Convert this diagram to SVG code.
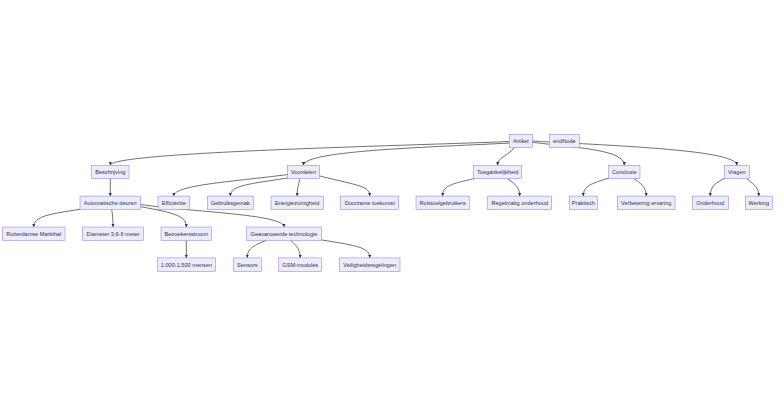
<svg xmlns="http://www.w3.org/2000/svg" width="784" height="406" viewBox="0 0 784 406">
<style>
.node rect{fill:#ECECFF;stroke:#9370DB;stroke-width:0.5}
.node text{font-family:"Liberation Sans",Arial,sans-serif;font-size:5.6px;fill:#333;text-anchor:middle;dominant-baseline:central}
.edge{fill:none;stroke:#333;stroke-width:0.7;marker-end:url(#arrow)}
</style>
<defs>
<marker id="arrow" viewBox="0 0 10 10" refX="10" refY="5" markerUnits="userSpaceOnUse" markerWidth="3.2" markerHeight="3.2" orient="auto">
<path d="M0,0 L10,5 L0,10 z" fill="#333"/>
</marker>
</defs>
<rect width="784" height="406" fill="#fff"/>
<g id="edges">
<path class="edge" d="M509.3,141.5 C400,146 110,152 110.3,165.3"/>
<path class="edge" d="M509.3,143 C440,147 303.5,150 303.5,165.3"/>
<path class="edge" d="M514,147.7 C508,156 497.7,157 497.7,165.3"/>
<path class="edge" d="M532.3,142.3 C580,148 624.3,150 624.3,165.3"/>
<path class="edge" d="M532.3,141 C620,146 736.8,150 736.8,165.3"/>
<path class="edge" d="M110.3,178.7 L110.3,196.1"/>
<path class="edge" d="M288,174.5 C230,182 173.8,185 173.8,196.1"/>
<path class="edge" d="M291,177.5 C250,184 230.3,185 230.3,196.1"/>
<path class="edge" d="M300,178.7 C298,186 297.2,188 297.2,196.1"/>
<path class="edge" d="M319.7,176 C360,186 369.7,186 369.7,196.1"/>
<path class="edge" d="M475,178.5 C450,184 442.7,186 442.7,196.1"/>
<path class="edge" d="M507.3,178.7 C516,184 519.7,188 519.7,196.1"/>
<path class="edge" d="M609.5,177.8 C590,184 583.3,186 583.3,196.1"/>
<path class="edge" d="M634,178.7 C642,184 646.2,188 646.2,196.1"/>
<path class="edge" d="M725,178 C714,184 710.3,187 710.3,196.1"/>
<path class="edge" d="M746.7,178.7 C755,185 758.8,188 758.8,196.1"/>
<path class="edge" d="M80,209.3 C50,214 33.7,216 33.7,227"/>
<path class="edge" d="M111.7,209.5 C112.5,215 113,218 113,227"/>
<path class="edge" d="M140.7,206.7 C175,213 186.3,216 186.3,227"/>
<path class="edge" d="M140.7,204.5 C190,212 284,214 284,227"/>
<path class="edge" d="M186.3,240.4 L186.3,257.9"/>
<path class="edge" d="M266.5,240.4 C252,246 247.3,249 247.3,257.9"/>
<path class="edge" d="M290.7,240.4 C297,246 300.2,250 300.2,257.9"/>
<path class="edge" d="M320.7,239.8 C360,246 369.7,248 369.7,257.9"/>
</g>
<g id="n-artikel" class="node"><rect x="509.3" y="134.3" width="23" height="13.4"/><text x="520.8" y="141">Artikel</text></g>
<g id="n-endnode" class="node"><rect x="549.3" y="134.3" width="30" height="13.4"/><text x="564.3" y="141">endNode</text></g>
<g id="n-beschrijving" class="node"><rect x="91.7" y="165.3" width="37.3" height="13.4"/><text x="110.3" y="172">Beschrijving</text></g>
<g id="n-voordelen" class="node"><rect x="287.3" y="165.3" width="32.4" height="13.4"/><text x="303.5" y="172">Voordelen</text></g>
<g id="n-toegankelijkheid" class="node"><rect x="473.7" y="165.3" width="48" height="13.4"/><text x="497.7" y="172">Toegankelijkheid</text></g>
<g id="n-conclusie" class="node"><rect x="608.7" y="165.3" width="31.3" height="13.4"/><text x="624.3" y="172">Conclusie</text></g>
<g id="n-vragen" class="node"><rect x="724.3" y="165.3" width="25" height="13.4"/><text x="736.8" y="172">Vragen</text></g>
<g id="n-automatische" class="node"><rect x="80" y="196.1" width="60.7" height="13.4"/><text x="110.3" y="202.8">Automatische deuren</text></g>
<g id="n-efficientie" class="node"><rect x="158" y="196.1" width="31.7" height="13.4"/><text x="173.8" y="202.8">Efficiëntie</text></g>
<g id="n-gebruiksgemak" class="node"><rect x="207.3" y="196.1" width="46" height="13.4"/><text x="230.3" y="202.8">Gebruiksgemak</text></g>
<g id="n-energiezuinigheid" class="node"><rect x="271" y="196.1" width="52.3" height="13.4"/><text x="297.2" y="202.8">Energiezuinigheid</text></g>
<g id="n-duurzame" class="node"><rect x="340.7" y="196.1" width="58" height="13.4"/><text x="369.7" y="202.8">Duurzame toekomst</text></g>
<g id="n-rolstoel" class="node"><rect x="416" y="196.1" width="53.3" height="13.4"/><text x="442.7" y="202.8">Rolstoelgebruikers</text></g>
<g id="n-regelmatig" class="node"><rect x="487.7" y="196.1" width="64" height="13.4"/><text x="519.7" y="202.8">Regelmatig onderhoud</text></g>
<g id="n-praktisch" class="node"><rect x="569.3" y="196.1" width="28" height="13.4"/><text x="583.3" y="202.8">Praktisch</text></g>
<g id="n-verbetering" class="node"><rect x="617.3" y="196.1" width="57.7" height="13.4"/><text x="646.2" y="202.8">Verbetering ervaring</text></g>
<g id="n-onderhoud" class="node"><rect x="692.3" y="196.1" width="36" height="13.4"/><text x="710.3" y="202.8">Onderhoud</text></g>
<g id="n-werking" class="node"><rect x="745.3" y="196.1" width="27" height="13.4"/><text x="758.8" y="202.8">Werking</text></g>
<g id="n-markthal" class="node"><rect x="2.3" y="227" width="62.7" height="13.4"/><text x="33.7" y="233.7">Rotterdamse Markthal</text></g>
<g id="n-diameter" class="node"><rect x="82.7" y="227" width="60.6" height="13.4"/><text x="113" y="233.7">Diameter 3,6-6 meter</text></g>
<g id="n-bezoekersstroom" class="node"><rect x="161" y="227" width="50.7" height="13.4"/><text x="186.3" y="233.7">Bezoekersstroom</text></g>
<g id="n-geavanceerde" class="node"><rect x="246.7" y="227" width="74.6" height="13.4"/><text x="284" y="233.7">Geavanceerde technologie</text></g>
<g id="n-mensen" class="node"><rect x="157.3" y="257.9" width="58.4" height="13.4"/><text x="186.5" y="264.6">1.000-1.500 mensen</text></g>
<g id="n-sensors" class="node"><rect x="233.3" y="257.9" width="28" height="13.4"/><text x="247.3" y="264.6">Sensors</text></g>
<g id="n-gsm" class="node"><rect x="278.7" y="257.9" width="43" height="13.4"/><text x="300.2" y="264.6">GSM-modules</text></g>
<g id="n-veiligheid" class="node"><rect x="339.3" y="257.9" width="60.7" height="13.4"/><text x="369.7" y="264.6">Veiligheidsregelingen</text></g>
</svg>
